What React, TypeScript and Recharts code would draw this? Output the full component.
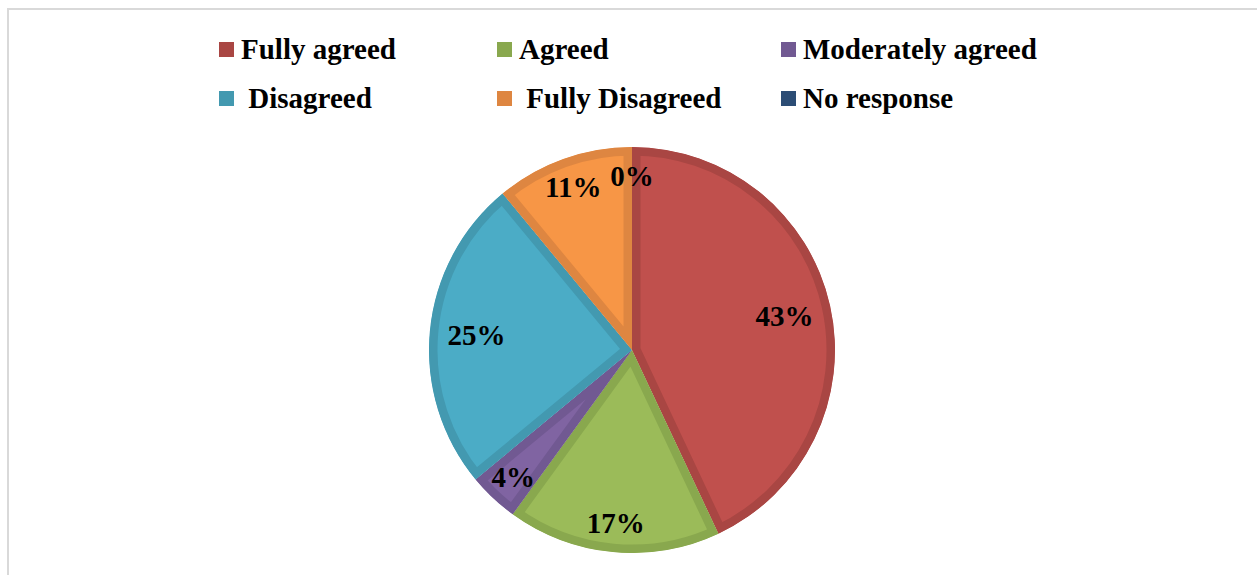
import React from "react";
import { PieChart, Pie, Cell, Sector, Legend } from "recharts";

const categories = ["Fully agreed", "Agreed", "Moderately agreed", " Disagreed", " Fully Disagreed", "No response"];
const shares = [43, 17, 4, 25, 11, 0];

const fills = ["#C0504D", "#9BBB59", "#8064A2", "#4BACC6", "#F79646", "#1F497D"];
const borders = ["#A94643", "#89A84E", "#715992", "#4399B0", "#DE8641", "#2C4D75"];

const data = categories.map((name, i) => ({ name, value: shares[i] }));

const FONT = '"Liberation Serif", "Times New Roman", serif';
const RADIAN = Math.PI / 180;

// border drawn inside each slice: stroke the sector clipped to itself
const BorderedSector = (props: any) => {
  const { cx, cy, innerRadius, outerRadius, startAngle, endAngle, index } = props;
  const id = `slice-clip-${index}`;
  const geo = { cx, cy, innerRadius, outerRadius, startAngle, endAngle };
  return (
    <g>
      <defs>
        <clipPath id={id}>
          <Sector {...geo} />
        </clipPath>
      </defs>
      <Sector
        {...geo}
        fill={fills[index]}
        stroke={borders[index]}
        strokeWidth={17}
        clipPath={`url(#${id})`}
      />
    </g>
  );
};

const renderLabel = (props: any) => {
  const { cx, cy, midAngle, outerRadius, value } = props;
  const r = outerRadius * (value >= 20 ? 0.77 : 0.855);
  const x = cx + r * Math.cos(-midAngle * RADIAN);
  const y = cy + r * Math.sin(-midAngle * RADIAN);
  return (
    <text
      x={x}
      y={y}
      textAnchor="middle"
      dominantBaseline="central"
      fill="#000"
      fontFamily={FONT}
      fontWeight="bold"
      fontSize={29}
    >
      {`${value}%`}
    </text>
  );
};

const colX = [210, 488, 772];
const rowY = [22, 71];

const renderLegend = () => (
  <div style={{ position: "relative", width: "100%", height: 0, overflow: "visible" }}>
    {categories.map((name, i) => (
      <div
        key={name}
        style={{
          position: "absolute",
          left: colX[i % 3],
          top: rowY[Math.floor(i / 3)],
          display: "flex",
          alignItems: "center",
          fontFamily: FONT,
          fontWeight: "bold",
          fontSize: 29,
          color: "#000",
          whiteSpace: "pre",
          lineHeight: "34px",
        }}
      >
        <span style={{ width: 15, height: 15, background: borders[i], marginRight: 7, display: "inline-block" }} />
        <span>{name}</span>
      </div>
    ))}
  </div>
);

export default function App() {
  return (
    <div
      style={{
        position: "absolute",
        left: 7,
        top: 8,
        width: 1248,
        height: 565,
        border: "2px solid #d9d9d9",
        borderBottom: "none",
        background: "#fff",
        overflow: "hidden",
      }}
    >
      <PieChart width={1248} height={565}>
        <Legend
          content={renderLegend}
          verticalAlign="top"
          wrapperStyle={{ top: 0, left: 0, width: 1248, height: 0 }}
        />
        <Pie
          data={data}
          dataKey="value"
          nameKey="name"
          cx={618}
          cy={335}
          outerRadius={203}
          startAngle={90}
          endAngle={-270}
          stroke="none"
          label={renderLabel}
          labelLine={false}
          shape={BorderedSector}
          isAnimationActive={false}
        >
          {data.map((d, i) => (
            <Cell key={d.name} fill={fills[i]} />
          ))}
        </Pie>
      </PieChart>
    </div>
  );
}
